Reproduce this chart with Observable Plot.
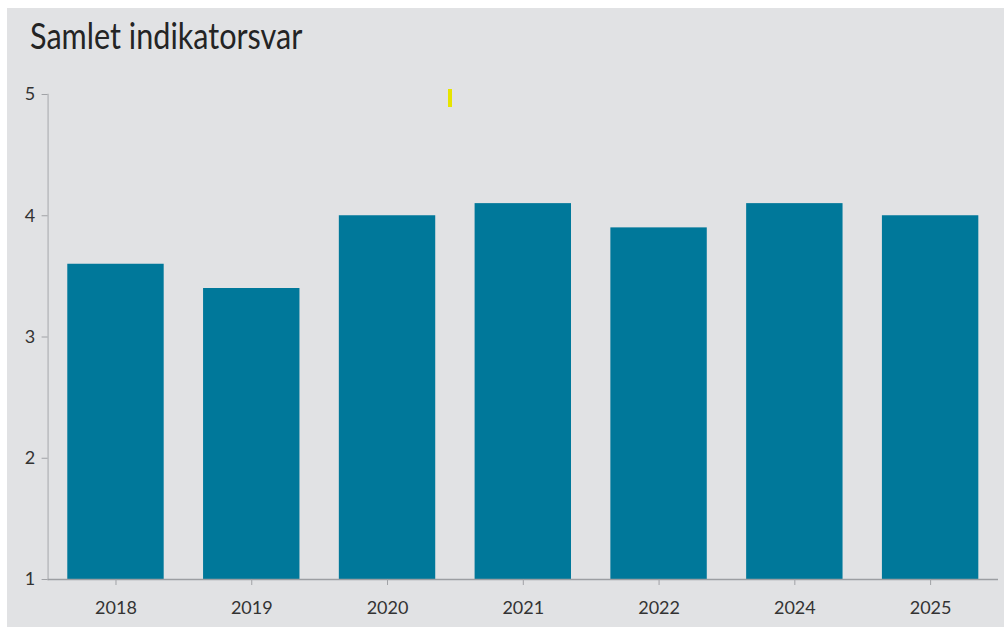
<!DOCTYPE html>
<html>
<head>
<meta charset="utf-8">
<script src="https://cdn.jsdelivr.net/npm/d3@7"></script>
<script src="https://cdn.jsdelivr.net/npm/@observablehq/plot@0.6"></script>
<style>
  html, body { margin: 0; padding: 0; background: #ffffff; }
  #wrap { position: relative; width: 1004px; height: 627px; overflow: hidden; }
  #bg { position: absolute; left: 7px; top: 8px; right: 0; bottom: 0; background: #e1e2e4; }
  #title { position: absolute; left: 30px; top: 14px; font-family: Lato, sans-serif; font-size: 36px; line-height: 1.2; color: #242424; white-space: nowrap; transform: scaleX(0.85); transform-origin: left top; }
  #chart { position: absolute; left: 0; top: 0; }
  #mark { position: absolute; left: 448px; top: 89px; width: 4px; height: 18px; background: #e6e400; }
</style>
</head>
<body>
<div id="wrap">
  <div id="bg"></div>
  <div id="title">Samlet indikatorsvar</div>
  <div id="mark"></div>
  <div id="chart"></div>
</div>
<script>
const years = ["2018", "2019", "2020", "2021", "2022", "2024", "2025"];
const values = [3.6, 3.4, 4.0, 4.1, 3.9, 4.1, 4.0];
const yTicks = [1, 2, 3, 4, 5];

const data = years.map((y, i) => ({year: y, value: values[i]}));

const chart = Plot.plot({
  width: 1004,
  height: 627,
  marginLeft: 47.6,
  marginRight: 6,
  marginTop: 94,
  marginBottom: 48,
  style: { background: "transparent", fontFamily: "Lato, sans-serif", fontSize: "18px", color: "#333" },
  x: { domain: years, paddingInner: 0.29, paddingOuter: 0.145, round: false, label: null },
  y: { domain: [1, 5], ticks: yTicks, label: null },
  marks: [
    Plot.barY(data, { x: "year", y1: 1, y2: "value", fill: "#00789a" }),
    Plot.frame({ anchor: "left", stroke: "#b9bbbe", strokeWidth: 1.5 }),
    Plot.ruleY([1], { stroke: "#9c9ea2", strokeWidth: 1.5 }),
    Plot.axisY({ ticks: yTicks, tickSize: 6, tickPadding: 7, stroke: "#a0a2a6", fill: "#333", fontSize: 18, label: null, tickFormat: d3.format("d") }),
    Plot.axisX({ tickSize: 6, tickPadding: 16, stroke: "#a0a2a6", fill: "#333", fontSize: 18, label: null })
  ]
});
document.getElementById("chart").appendChild(chart);
</script>
</body>
</html>
